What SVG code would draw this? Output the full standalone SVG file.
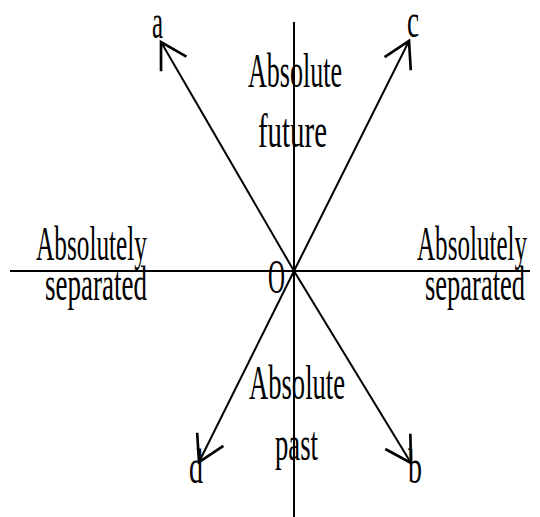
<svg xmlns="http://www.w3.org/2000/svg" width="540" height="517" viewBox="0 0 540 517">
<style>
.ln{stroke:#000;stroke-width:2;fill:none}
.t{font-family:"Liberation Serif",serif;font-size:48px;fill:#000}
</style>
<defs>
<marker id="ah" markerUnits="userSpaceOnUse" markerWidth="40" markerHeight="40" viewBox="-25 -15 30 30" refX="0" refY="0" orient="auto">
<path d="M-19,-11 L0,0 L-19,11" stroke="#000" stroke-width="2" fill="none"/>
</marker>
</defs>
<rect width="540" height="517" fill="#fff"/>
<g id="connectors">
<line class="ln" x1="294" y1="22" x2="294" y2="517"/>
<line class="ln" x1="10" y1="271" x2="530" y2="271"/>
<line class="ln" x1="294" y1="271" x2="161" y2="42" marker-end="url(#ah)"/>
<line class="ln" x1="294" y1="271" x2="409" y2="41" marker-end="url(#ah)"/>
<line class="ln" x1="294" y1="271" x2="199" y2="462" marker-end="url(#ah)"/>
<line class="ln" x1="294" y1="271" x2="411" y2="463" marker-end="url(#ah)"/>
</g>
<g id="label-a"><text class="t" x="152" y="38" textLength="11" lengthAdjust="spacingAndGlyphs">a</text></g>
<g id="label-c"><text class="t" x="407" y="37" textLength="12" lengthAdjust="spacingAndGlyphs">c</text></g>
<g id="label-d"><text class="t" x="189" y="483" textLength="14" lengthAdjust="spacingAndGlyphs">d</text></g>
<g id="label-b"><text class="t" x="408" y="483" textLength="14" lengthAdjust="spacingAndGlyphs">b</text></g>
<g id="label-O"><text class="t" x="268" y="293" textLength="17" lengthAdjust="spacingAndGlyphs">O</text></g>
<g id="future">
<text class="t" x="248" y="87" textLength="94" lengthAdjust="spacingAndGlyphs">Absolute</text>
<text class="t" x="258" y="147" textLength="69" lengthAdjust="spacingAndGlyphs">future</text>
</g>
<g id="sep-left">
<text class="t" x="36" y="260" textLength="111" lengthAdjust="spacingAndGlyphs">Absolutely</text>
<text class="t" x="45" y="300" textLength="102" lengthAdjust="spacingAndGlyphs">separated</text>
</g>
<g id="sep-right">
<text class="t" x="417" y="260" textLength="110" lengthAdjust="spacingAndGlyphs">Absolutely</text>
<text class="t" x="425" y="300" textLength="100" lengthAdjust="spacingAndGlyphs">separated</text>
</g>
<g id="past">
<text class="t" x="249" y="399" textLength="96" lengthAdjust="spacingAndGlyphs">Absolute</text>
<text class="t" x="275" y="460" textLength="43" lengthAdjust="spacingAndGlyphs">past</text>
</g>
</svg>
